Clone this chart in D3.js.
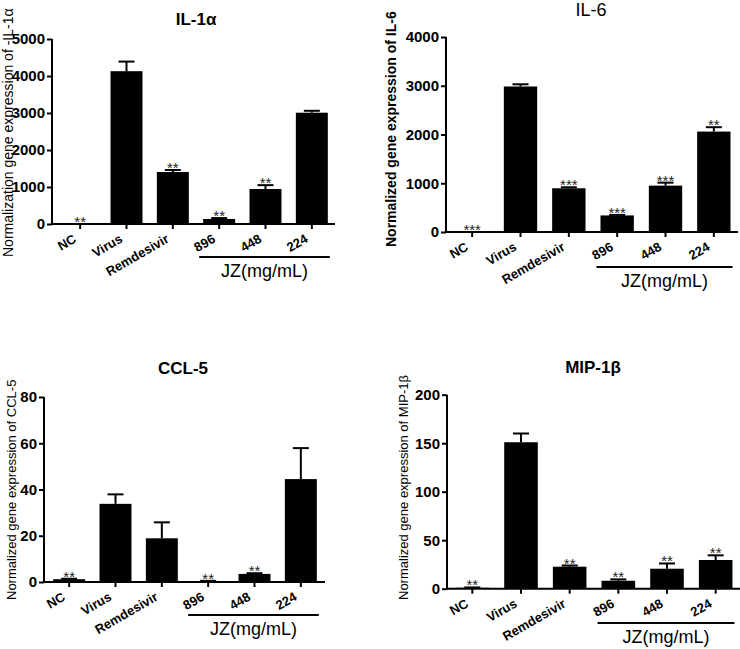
<!DOCTYPE html>
<html><head><meta charset="utf-8">
<script src="https://cdn.jsdelivr.net/npm/d3@7"></script>
<style>body{margin:0;background:#fff;} svg{display:block;}</style>
</head><body>
<svg id="chart" width="740" height="649"></svg>
<script>
const categories = ["NC", "Virus", "Remdesivir", "896", "448", "224"];
const jzLabel = "JZ(mg/mL)";

const il1aMeans = [1, 4130, 1405, 135, 946, 3008];
const il1aErrors = [0, 260, 55, 25, 104, 52];
const il1aStars = ["**", "", "**", "**", "**", ""];
const il1aTicks = [0, 1000, 2000, 3000, 4000, 5000];

const il6Means = [2, 2985, 897, 340, 951, 2060];
const il6Errors = [0, 45, 21, 10, 61, 90];
const il6Stars = ["***", "", "***", "***", "***", "**"];
const il6Ticks = [0, 1000, 2000, 3000, 4000];

const ccl5Means = [1.2, 33.8, 18.9, 0.4, 3.5, 44.5];
const ccl5Errors = [0.2, 4.1, 6.9, 0.1, 0.3, 13.4];
const ccl5Stars = ["**", "", "", "**", "**", ""];
const ccl5Ticks = [0, 20, 40, 60, 80];

const mipMeans = [1, 151, 22.7, 8.2, 20.6, 29.6];
const mipErrors = [0.3, 9, 1.2, 1.4, 5.4, 4.8];
const mipStars = ["**", "", "**", "**", "**", "**"];
const mipTicks = [0, 50, 100, 150, 200];

const svg = d3.select("#chart");
const FONT = "Arial, 'Liberation Sans', Helvetica, sans-serif";

function panel(o) {
  const g = svg.append("g");
  const x = d3.scaleBand().domain(categories).range(o.xr).paddingInner(0.31).paddingOuter(0.155);
  const y = d3.scaleLinear().domain([0, o.max]).range(o.yr);

  const bw = x.bandwidth();
  g.selectAll("rect.bar").data(o.means).join("rect")
    .attr("x", (d, i) => x(categories[i]))
    .attr("width", bw)
    .attr("y", d => y(d))
    .attr("height", d => y(0) - y(d))
    .attr("fill", "#000");

  const cap = 16;
  o.means.forEach((m, i) => {
    const e = o.errors[i];
    if (e <= 0) return;
    const cx = x(categories[i]) + bw / 2;
    g.append("line").attr("x1", cx).attr("x2", cx).attr("y1", y(m)).attr("y2", y(m + e))
      .attr("stroke", "#000").attr("stroke-width", 2);
    g.append("line").attr("x1", cx - cap / 2).attr("x2", cx + cap / 2).attr("y1", y(m + e)).attr("y2", y(m + e))
      .attr("stroke", "#000").attr("stroke-width", 2);
  });

  g.selectAll("text.star").data(o.stars).join("text")
    .attr("x", (d, i) => x(categories[i]) + bw / 2)
    .attr("y", (d, i) => y(o.means[i] + o.errors[i]) + 3)
    .attr("text-anchor", "middle")
    .attr("font-family", FONT).attr("font-size", 15).attr("fill", "#222")
    .text(d => d);

  const ya = g.append("g").attr("transform", `translate(${o.ax},0)`)
    .call(d3.axisLeft(y).tickValues(o.ticks).tickSize(5).tickPadding(2).tickFormat(d3.format("d")));
  ya.select(".domain").attr("stroke-width", 2).attr("d", `M0,${y(o.max)}V${y(0)}`);
  ya.selectAll(".tick line").attr("stroke-width", 2);
  ya.selectAll(".tick text").attr("font-family", FONT).attr("font-size", 15).attr("font-weight", "bold").attr("fill", "#000");

  const xa = g.append("g").attr("transform", `translate(0,${y(0)})`)
    .call(d3.axisBottom(x).tickSize(5).tickSizeOuter(0));
  xa.select(".domain").attr("stroke-width", 2).attr("d", `M${o.ax - 1},0H${o.xEnd}`);
  xa.selectAll(".tick line").attr("stroke-width", 2);
  xa.selectAll(".tick text")
    .attr("font-family", FONT).attr("font-size", 13).attr("font-weight", "bold").attr("fill", "#000")
    .attr("text-anchor", "end")
    .attr("y", 0).attr("dy", 0)
    .attr("transform", "translate(-3,17.5) rotate(-30)");

  const x1 = x("896") - 4, x2 = x("224") + bw + 2;
  g.append("line").attr("x1", x1).attr("x2", x2).attr("y1", o.jzY).attr("y2", o.jzY)
    .attr("stroke", "#000").attr("stroke-width", 2);
  g.append("text").attr("x", (x1 + x2) / 2).attr("y", o.jzY + 20)
    .attr("text-anchor", "middle").attr("font-family", FONT).attr("font-size", 18).attr("fill", "#000")
    .text(jzLabel);

  g.append("text").attr("x", o.tx).attr("y", o.ty).attr("text-anchor", "middle")
    .attr("font-family", FONT).attr("font-size", o.tSize).attr("font-weight", o.tWeight).attr("fill", "#000")
    .text(o.title);

  g.append("text").attr("transform", `translate(${o.lx},${o.ly}) rotate(-90)`)
    .attr("text-anchor", "start").attr("font-family", FONT).attr("font-size", o.lSize)
    .attr("font-weight", o.lWeight).attr("fill", "#000")
    .text(o.label);
}

panel({ means: il1aMeans, errors: il1aErrors, stars: il1aStars, ticks: il1aTicks, max: 5000,
  ax: 52, xr: [57, 335], xEnd: 335, yr: [224, 39], jzY: 257,
  title: "IL-1α", tx: 196, ty: 25, tSize: 17, tWeight: "bold",
  label: "Normalization gene expression of -IL-1α", lx: 13, ly: 257, lSize: 14, lWeight: "normal" });

panel({ means: il6Means, errors: il6Errors, stars: il6Stars, ticks: il6Ticks, max: 4000,
  ax: 446, xr: [448, 738], xEnd: 738, yr: [232, 37], jzY: 267,
  title: "IL-6", tx: 591, ty: 16, tSize: 18, tWeight: "normal",
  label: "Normalized gene expression of IL-6", lx: 396, ly: 247, lSize: 14, lWeight: "bold" });

panel({ means: ccl5Means, errors: ccl5Errors, stars: ccl5Stars, ticks: ccl5Ticks, max: 80,
  ax: 44, xr: [46, 324], xEnd: 325, yr: [582, 397], jzY: 615,
  title: "CCL-5", tx: 183, ty: 374, tSize: 17, tWeight: "bold",
  label: "Normalized gene expression of CCL-5", lx: 16, ly: 600, lSize: 13, lWeight: "normal" });

panel({ means: mipMeans, errors: mipErrors, stars: mipStars, ticks: mipTicks, max: 200,
  ax: 447, xr: [448, 740], xEnd: 740, yr: [588.7, 394.7], jzY: 623,
  title: "MIP-1β", tx: 593, ty: 373, tSize: 17, tWeight: "bold",
  label: "Normalized gene expression of MIP-1β", lx: 408, ly: 600, lSize: 13, lWeight: "normal" });
</script>
</body></html>
